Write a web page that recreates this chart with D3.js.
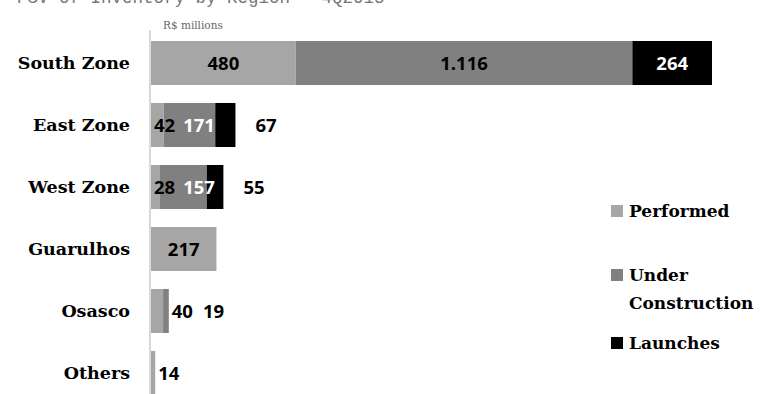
<!DOCTYPE html>
<html>
<head>
<meta charset="utf-8">
<script src="https://cdn.jsdelivr.net/npm/d3@7"></script>
<style>
  html, body { margin: 0; padding: 0; background: #fff; }
  svg { display: block; }
</style>
</head>
<body>
<svg id="chart" width="760" height="394"></svg>
<script>
// Regions and the inventory value of each stage (R$ millions)
const regions = ["South Zone", "East Zone", "West Zone", "Guarulhos", "Osasco", "Others"];
const performed = [480, 42, 28, 217, 40, 14];
const underConstruction = [1116, 171, 157, 0, 19, 0];
const launches = [264, 67, 55, 0, 0, 0];
const seriesNames = ["Performed", "Under\nConstruction", "Launches"];
const unitLabel = "R$ millions";
const titleText = "PSV of Inventory by Region \u2013 4Q2013";

const colors = ["#a6a6a6", "#808080", "#000000"];
const serifFont = "'DejaVu Serif', serif";
const numFont = "'Open Sans', sans-serif";

const svg = d3.select("#chart");
const W = 760, H = 394;
const margin = { left: 151, top: 34.8 };

const table = regions.map((r, i) => ({
  region: r,
  values: [performed[i], underConstruction[i], launches[i]]
}));

const maxTotal = d3.max(table, d => d3.sum(d.values));
const x = d3.scaleLinear().domain([0, maxTotal]).range([margin.left, margin.left + 561]);
const y = d3.scaleBand().domain(regions).range([margin.top, 401.2]).paddingInner(0.29).paddingOuter(0.1);

// Heading, running off the top edge
svg.append("text")
  .attr("x", 17).attr("y", 3)
  .attr("font-family", "'Liberation Mono', monospace")
  .attr("font-size", 17.5)
  .attr("fill", "#777")
  .text(titleText);

// unit caption
svg.append("text")
  .attr("x", 163).attr("y", 29)
  .attr("font-family", serifFont)
  .attr("font-size", 10.5)
  .attr("fill", "#666")
  .text(unitLabel);

// stacked segments
const rows = svg.append("g").selectAll("g.row")
  .data(table).join("g").attr("class", "row");

rows.each(function(d) {
  const g = d3.select(this);
  let acc = 0;
  const segs = d.values.map((v, k) => {
    const s = { k, v, x0: x(acc), x1: x(acc + v) };
    acc += v;
    return s;
  }).filter(s => s.v > 0);
  d.segs = segs;
  d.barEnd = x(acc);
  g.selectAll("rect").data(segs).join("rect")
    .attr("x", s => s.x0)
    .attr("y", y(d.region))
    .attr("width", s => s.x1 - s.x0)
    .attr("height", y.bandwidth())
    .attr("fill", s => colors[s.k]);
});

// category axis line, no ticks
const yAxis = d3.axisLeft(y).tickSize(0).tickPadding(20);
const axG = svg.append("g").attr("transform", `translate(${margin.left - 1},0)`).call(yAxis);
axG.select(".domain").attr("stroke", "#d9d9d9").attr("stroke-width", 2)
  .attr("d", `M0,30V${H}`);
axG.selectAll(".tick text")
  .attr("font-family", serifFont)
  .attr("font-weight", "bold")
  .attr("font-size", 17.5)
  .attr("fill", "#000")
  .attr("dy", "0.35em");

// value labels: centred inside when they fit, otherwise pushed along the row
const fmt = v => d3.format(",")(v).replace(/,/g, ".");
const measure = svg.append("text").attr("font-family", numFont).attr("font-weight", 700).attr("font-size", 18.5);
function textW(s) { measure.text(s); return measure.node().getComputedTextLength(); }

const labelG = svg.append("g");
table.forEach(d => {
  const cy = y(d.region) + y.bandwidth() / 2;
  const items = d.segs.map(s => ({ ...s, text: fmt(s.v), w: textW(fmt(s.v)) }));
  items.forEach(it => it.fits = it.w + 6 <= it.x1 - it.x0);
  const lastFit = d3.max(items.map((it, i) => it.fits ? i : -1));
  const hasInside = lastFit >= 0;
  let prevRight = -Infinity;
  let outsideCursor = d.barEnd + (hasInside ? 20 : 3);
  items.forEach((it, i) => {
    let left, displaced = false;
    if (i > lastFit && !it.fits) {
      left = outsideCursor;
      outsideCursor = left + it.w + 10;
    } else if (it.fits) {
      left = (it.x0 + it.x1) / 2 - it.w / 2;
      if (left < prevRight + 8) { left = prevRight + 8; displaced = true; }
    } else {
      left = it.x0 + 3;
    }
    prevRight = left + it.w;
    let fill = "#000";
    if (it.k === 2 && left < d.barEnd) fill = "#fff";
    if (it.k === 1 && displaced) fill = "#fff";
    labelG.append("text")
      .attr("x", left).attr("y", cy)
      .attr("dy", "0.36em")
      .attr("font-family", numFont)
      .attr("font-weight", 700)
      .attr("font-size", 18.5)
      .attr("fill", fill)
      .text(it.text);
  });
});
measure.remove();

// legend
const legendY = [211, 275, 343];
const legend = svg.append("g");
seriesNames.forEach((name, k) => {
  legend.append("rect")
    .attr("x", 611).attr("y", legendY[k] - 6)
    .attr("width", 12).attr("height", 12)
    .attr("fill", colors[k]);
  const t = legend.append("text")
    .attr("x", 629).attr("y", legendY[k])
    .attr("font-family", serifFont)
    .attr("font-weight", "bold")
    .attr("font-size", 17)
    .attr("fill", "#000");
  name.split("\n").forEach((line, j) => {
    t.append("tspan").attr("x", 629).attr("dy", j === 0 ? "0.35em" : "1.65em").text(line);
  });
});
</script>
</body>
</html>
